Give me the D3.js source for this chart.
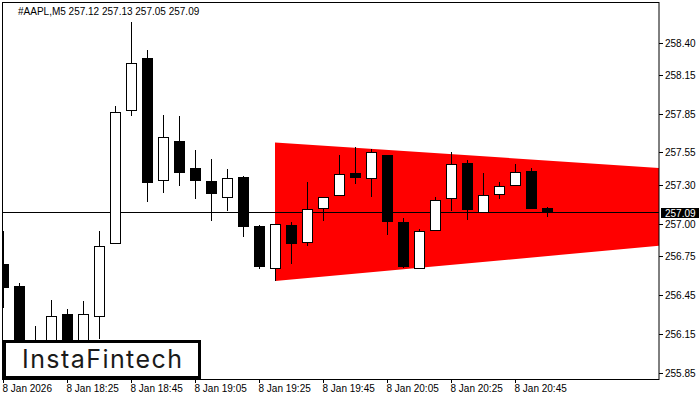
<!DOCTYPE html>
<meta charset="utf-8">
<style>
    body { margin: 0; background: #fff; }
    svg text { font-family: "Liberation Sans", Arial, sans-serif; font-size: 10px; fill: #000; }
</style>
<svg width="700" height="400"></svg>
<script src="https://cdn.jsdelivr.net/npm/d3@7"></script>
<script>

    // M5 bars, 8 Jan, 18:05 .. 20:55
    var times = ["18:05","18:10","18:15","18:20","18:25","18:30","18:35","18:40","18:45","18:50",
                 "18:55","19:00","19:05","19:10","19:15","19:20","19:25","19:30","19:35","19:40",
                 "19:45","19:50","19:55","20:00","20:05","20:10","20:15","20:20","20:25","20:30",
                 "20:35","20:40","20:45","20:50","20:55"];
    var open  = [256.69,256.52,256.06,256.09,256.30,256.08,256.29,256.85,257.88,258.28,
                 257.34,257.64,257.43,257.33,257.21,257.36,256.98,256.66,256.99,256.86,
                 257.12,257.22,257.39,257.35,257.53,257.01,256.66,256.95,257.20,257.47,
                 257.09,257.23,257.30,257.41,257.12];
    var high  = [256.94,256.54,256.21,256.41,256.34,256.40,256.94,257.91,258.56,258.34,
                 257.84,257.83,257.57,257.50,257.42,257.37,256.99,257.00,257.01,257.32,
                 257.21,257.53,257.59,257.58,257.53,257.04,256.96,257.21,257.55,257.49,
                 257.39,257.32,257.46,257.43,257.13];
    var low   = [256.35,256.07,255.98,256.05,256.04,256.05,256.11,256.85,257.83,257.17,
                 257.24,257.29,257.19,257.02,257.10,256.90,256.65,256.56,256.69,256.83,
                 257.02,257.22,257.31,257.21,256.91,256.66,256.65,256.95,257.10,257.03,
                 257.09,257.19,257.29,257.12,257.05];
    var close = [256.51,256.11,256.02,256.29,256.08,256.30,256.83,257.86,258.24,257.32,
                 257.67,257.40,257.34,257.24,257.35,256.98,256.67,257.00,256.85,257.11,
                 257.21,257.38,257.36,257.55,257.02,256.67,256.94,257.18,257.46,257.11,
                 257.22,257.29,257.40,257.12,257.09];

    var priceTicks = [258.40, 258.15, 257.85, 257.55, 257.30, 257.00, 256.75, 256.45, 256.15, 255.85];
    var timeTicks = [0, 4, 8, 12, 16, 20, 24, 28, 32];
    var timeLabels = ["8 Jan 2026","8 Jan 18:25","8 Jan 18:45","8 Jan 19:05","8 Jan 19:25",
                      "8 Jan 19:45","8 Jan 20:05","8 Jan 20:25","8 Jan 20:45"];

    // triangle pattern: bar index, upper price, lower price
    var triBars  = [17, 41];
    var triUpper = [257.627, 257.431];
    var triLower = [256.557, 256.829];

    var lastPrice = 257.09;
    var header = "#AAPL,M5  257.12 257.13 257.05 257.09";

    var plotL = 3, plotR = 659, plotT = 2, plotB = 379;

    var svg = d3.select("svg");
    var x = d3.scaleLinear().domain([0, 41]).range([plotL, plotR]);
    var y = d3.scaleLinear().domain([258.40, 255.85]).range([42.5, 372.5]);

    svg.append("rect").attr("width", 700).attr("height", 400).attr("fill", "#fff");

    svg.append("clipPath").attr("id", "plot")
        .append("rect").attr("x", plotL).attr("y", plotT)
        .attr("width", plotR - plotL).attr("height", plotB - plotT);

    var plot = svg.append("g").attr("clip-path", "url(#plot)");

    // red triangle
    var tri = triBars.map(function (b, i) { return [x(b), y(triUpper[i])]; })
        .concat(triBars.map(function (b, i) { return [x(b), y(triLower[i])]; }).reverse());
    plot.append("path")
        .attr("d", "M" + tri.join("L") + "Z")
        .attr("fill", "#ff0000");

    // current price line
    var ly = Math.round(y(lastPrice));
    plot.append("line")
        .attr("x1", plotL).attr("x2", plotR)
        .attr("y1", ly + 0.5).attr("y2", ly + 0.5)
        .attr("stroke", "#000");

    // candles
    var bars = plot.selectAll("g.bar").data(times).enter().append("g").attr("class", "bar");
    bars.append("line")
        .attr("x1", function (d, i) { return Math.round(x(i)) + 0.5; })
        .attr("x2", function (d, i) { return Math.round(x(i)) + 0.5; })
        .attr("y1", function (d, i) { return Math.round(y(high[i])); })
        .attr("y2", function (d, i) { return Math.round(y(low[i])); })
        .attr("stroke", "#000");
    bars.append("rect")
        .attr("x", function (d, i) { return Math.round(x(i)) - 4.5; })
        .attr("width", 10)
        .attr("y", function (d, i) { return Math.round(y(Math.max(open[i], close[i]))) + 0.5; })
        .attr("height", function (d, i) {
            return Math.max(1, Math.round(y(Math.min(open[i], close[i]))) - Math.round(y(Math.max(open[i], close[i]))));
        })
        .attr("fill", function (d, i) { return close[i] >= open[i] ? "#fff" : "#000"; })
        .attr("stroke", "#000");

    // frame
    svg.append("rect")
        .attr("x", plotL - 0.5).attr("y", plotT + 0.5)
        .attr("width", plotR - plotL + 0.5).attr("height", plotB - plotT)
        .attr("fill", "none").attr("stroke", "#000");

    // price axis
    priceTicks.forEach(function (p) {
        var py = Math.round(y(p)) + 0.5;
        svg.append("line").attr("x1", plotR).attr("x2", plotR + 4)
            .attr("y1", py).attr("y2", py).attr("stroke", "#000");
        svg.append("text").attr("x", plotR + 6).attr("y", py + 3.5).text(p.toFixed(2));
    });

    // time axis
    timeTicks.forEach(function (t, i) {
        var tx = Math.round(x(t)) + 0.5;
        svg.append("line").attr("x1", tx).attr("x2", tx)
            .attr("y1", plotB).attr("y2", plotB + 4).attr("stroke", "#000");
        svg.append("text").attr("x", tx - 1).attr("y", plotB + 13).text(timeLabels[i]);
    });

    // last price label
    svg.append("rect").attr("x", plotR + 2).attr("y", ly - 4)
        .attr("width", 38).attr("height", 10).attr("fill", "#000");
    svg.append("text").attr("x", plotR + 6).attr("y", ly + 4.5)
        .style("fill", "#fff").text(lastPrice.toFixed(2));

    // header
    svg.append("text").attr("x", 18).attr("y", 15).text(header);

    // logo
    svg.append("rect").attr("x", 4.5).attr("y", 341.5)
        .attr("width", 195).attr("height", 36)
        .attr("fill", "#fff").attr("stroke", "#000").attr("stroke-width", 3);
    svg.append("text").attr("x", 102).attr("y", 368)
        .attr("text-anchor", "middle")
        .attr("textLength", 160)
        .style("font-family", "Inter, 'Noto Sans', sans-serif")
        .style("font-size", "25px").style("font-weight", "400")
        .style("fill", "#1a1a1a")
        .text("InstaFintech");

</script>
